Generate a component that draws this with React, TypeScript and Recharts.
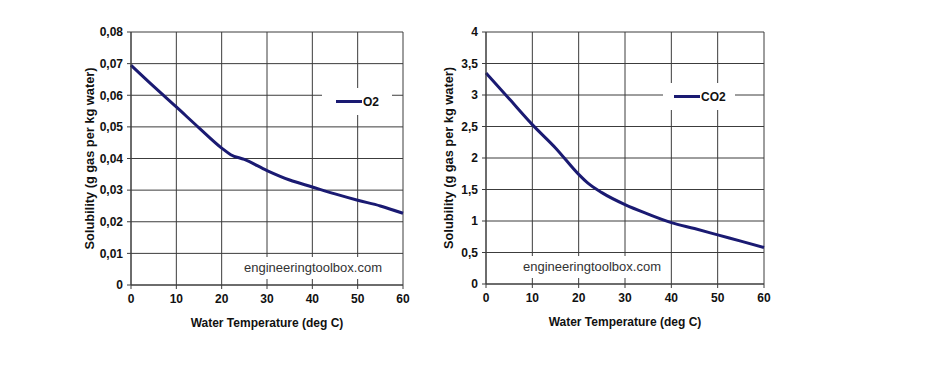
import { LineChart, Line, XAxis, YAxis, CartesianGrid, Legend } from "recharts";

const NAVY = "#1a1a72";
const GRID = "#3c3c3c";
const FONT = "'Liberation Sans', Arial, sans-serif";

// ── data ─────────────────────────────────────────────────────────────────────
const temps = [0, 5, 10, 15, 20, 22, 25, 30, 35, 40, 45, 50, 55, 60];
const o2 = [0.0695, 0.0628, 0.0563, 0.0497, 0.0433, 0.0412, 0.0397, 0.0362, 0.0332, 0.031, 0.0288, 0.0268, 0.025, 0.0227];
const co2 = [3.35, 2.94, 2.53, 2.16, 1.74, 1.6, 1.45, 1.26, 1.11, 0.975, 0.88, 0.78, 0.68, 0.58];

const tempTicks = [0, 10, 20, 30, 40, 50, 60];
const o2Ticks = [0, 0.01, 0.02, 0.03, 0.04, 0.05, 0.06, 0.07, 0.08];
const co2Ticks = [0, 0.5, 1, 1.5, 2, 2.5, 3, 3.5, 4];

const o2Rows = temps.map((t, i) => ({ t, v: o2[i] }));
const co2Rows = temps.map((t, i) => ({ t, v: co2[i] }));

const fmtO2 = (v: number) => (v === 0 ? "0" : v.toFixed(2).replace(".", ","));
const fmtCo2 = (v: number) => String(v).replace(".", ",");

const tickStyle = { fontSize: 12, fontWeight: 700, fill: "#111", fontFamily: FONT };
const labelStyle = { fontSize: 12, fontWeight: 700, fill: "#111", fontFamily: FONT };

type Box = { left: number; top: number; width: number; height: number };

function SolubilityChart({
  rows, name, ticks, max, fmt, left, width, margin, yLabelDx, legendBox, lineX, stampBox,
}: {
  rows: { t: number; v: number }[];
  name: string;
  ticks: number[];
  max: number;
  fmt: (v: number) => string;
  left: number;
  width: number;
  margin: { top: number; right: number; bottom: number; left: number };
  yLabelDx: number;
  legendBox: Box;
  lineX: number;
  stampBox: Box;
}) {
  return (
    <div style={{ position: "absolute", left, top: 0, width, height: 372 }}>
      <LineChart width={width} height={372} data={rows} margin={margin}>
        <CartesianGrid stroke={GRID} strokeWidth={1} horizontalValues={ticks} verticalValues={tempTicks} />
        <XAxis
          dataKey="t" type="number" domain={[0, 60]} ticks={tempTicks} height={45}
          stroke={GRID} tickSize={4} tickMargin={5} tick={tickStyle}
          label={{ value: "Water Temperature (deg C)", position: "insideBottom", offset: 3, style: labelStyle }}
        />
        <YAxis
          type="number" domain={[0, max]} ticks={ticks} width={60} tickFormatter={fmt}
          stroke={GRID} tickSize={4} tickMargin={4} tick={tickStyle}
          label={{ value: "Solubility (g gas per kg water)", angle: -90, position: "insideLeft", dx: yLabelDx, style: { ...labelStyle, fontSize: 12.8, textAnchor: "middle" } }}
        />
        {/* middle/center keeps the legend from eating into the plot area */}
        <Legend
          layout="horizontal" verticalAlign="middle" align="center"
          wrapperStyle={{ position: "absolute", ...legendBox }}
          content={() => (
            <div style={{ position: "relative", width: legendBox.width, height: legendBox.height, background: "#fff" }}>
              <div style={{ position: "absolute", left: lineX, top: legendBox.height / 2 - 1.5, width: 26, height: 3, background: NAVY }} />
              <span style={{ position: "absolute", left: lineX + 27, top: legendBox.height / 2 - 7, fontSize: 12, fontWeight: 700, fontFamily: FONT, color: "#111" }}>
                {name}
              </span>
            </div>
          )}
        />
        <Line type="monotone" dataKey="v" name={name} stroke={NAVY} strokeWidth={3} dot={false} isAnimationActive={false} />
      </LineChart>
      <div
        style={{
          position: "absolute", ...stampBox, background: "#fff", fontFamily: FONT, fontSize: 13,
          color: "#333", textAlign: "center", lineHeight: `${stampBox.height}px`, whiteSpace: "nowrap",
        }}
      >
        engineeringtoolbox.com
      </div>
    </div>
  );
}

export default function App() {
  return (
    <div style={{ position: "absolute", left: 0, top: 0, width: 941, height: 372, background: "#fff" }}>
      <SolubilityChart
        rows={o2Rows} name="O2" ticks={o2Ticks} max={0.08} fmt={fmtO2}
        left={0} width={450}
        margin={{ top: 32, right: 47, bottom: 42, left: 71 }}
        yLabelDx={13}
        legendBox={{ left: 322, top: 88, width: 70, height: 27 }}
        lineX={14}
        stampBox={{ left: 238, top: 257, width: 150, height: 22 }}
      />
      <SolubilityChart
        rows={co2Rows} name="CO2" ticks={co2Ticks} max={4} fmt={fmtCo2}
        left={380} width={430}
        margin={{ top: 32, right: 46, bottom: 43, left: 46 }}
        yLabelDx={17}
        legendBox={{ left: 283, top: 83, width: 72, height: 27 }}
        lineX={11}
        stampBox={{ left: 137, top: 256, width: 150, height: 22 }}
      />
    </div>
  );
}
